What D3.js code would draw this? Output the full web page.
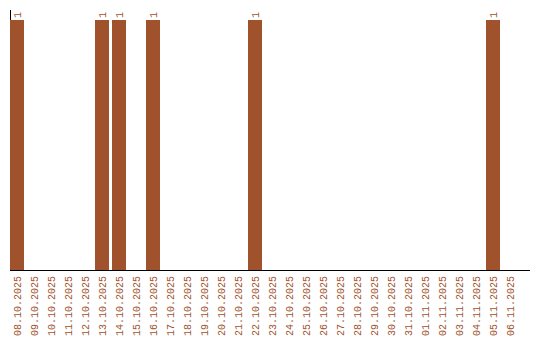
<!DOCTYPE html>
<html>
<head>
<meta charset="utf-8">
<script src="https://cdn.jsdelivr.net/npm/d3@7"></script>
<style>
    body { margin: 0; background: #fff; }
    text { font-family: "Liberation Mono", "DejaVu Sans Mono", monospace; fill: #a0522d; }
</style>
</head>
<body>
<svg id="chart" width="540" height="340"></svg>
<script>
// dates shown on the x axis
const dates = [
    "08.10.2025", "09.10.2025", "10.10.2025", "11.10.2025", "12.10.2025",
    "13.10.2025", "14.10.2025", "15.10.2025", "16.10.2025", "17.10.2025",
    "18.10.2025", "19.10.2025", "20.10.2025", "21.10.2025", "22.10.2025",
    "23.10.2025", "24.10.2025", "25.10.2025", "26.10.2025", "27.10.2025",
    "28.10.2025", "29.10.2025", "30.10.2025", "31.10.2025", "01.11.2025",
    "02.11.2025", "03.11.2025", "04.11.2025", "05.11.2025", "06.11.2025"
];
// count per day
const counts = [
    1, 0, 0, 0, 0,
    1, 1, 0, 1, 0,
    0, 0, 0, 0, 1,
    0, 0, 0, 0, 0,
    0, 0, 0, 0, 0,
    0, 0, 0, 1, 0
];

const data = dates.map((d, i) => ({ date: d, count: counts[i] }));
const barColor = "#a0522d";

const svg = d3.select("#chart");

// step of 17px, bar 14px wide
const x = d3.scaleBand()
    .domain(dates)
    .range([10, 517])
    .paddingInner(3 / 17)
    .paddingOuter(0);

const y = d3.scaleLinear()
    .domain([0, 1])
    .range([270, 20]);

// left axis line
svg.append("line")
    .attr("x1", 10.5).attr("x2", 10.5)
    .attr("y1", 10).attr("y2", 270)
    .attr("stroke", "#000");

// bars
svg.selectAll(".bar")
    .data(data.filter(d => d.count > 0))
    .enter()
    .append("rect")
    .attr("class", "bar")
    .attr("x", d => x(d.date))
    .attr("width", x.bandwidth())
    .attr("y", d => y(d.count))
    .attr("height", d => y(0) - y(d.count))
    .style("fill", barColor);

// value labels
svg.selectAll(".bar-text")
    .data(data.filter(d => d.count > 0))
    .enter()
    .append("text")
    .attr("class", "bar-text")
    .attr("transform", d => `translate(${x(d.date) + x.bandwidth() / 2 + 3.5},${y(d.count) - 2}) rotate(-90)`)
    .style("font-size", "10px")
    .text(d => d.count);

// baseline
svg.append("line")
    .attr("x1", 10).attr("x2", 530)
    .attr("y1", 270.5).attr("y2", 270.5)
    .attr("stroke", "#000");

// date labels
svg.selectAll(".date-label")
    .data(dates)
    .enter()
    .append("text")
    .attr("class", "date-label")
    .attr("text-anchor", "end")
    .attr("transform", d => `translate(${x(d) + x.bandwidth() / 2 + 3.5},276) rotate(-90)`)
    .style("font-size", "10px")
    .text(d => d);
</script>
</body>
</html>
